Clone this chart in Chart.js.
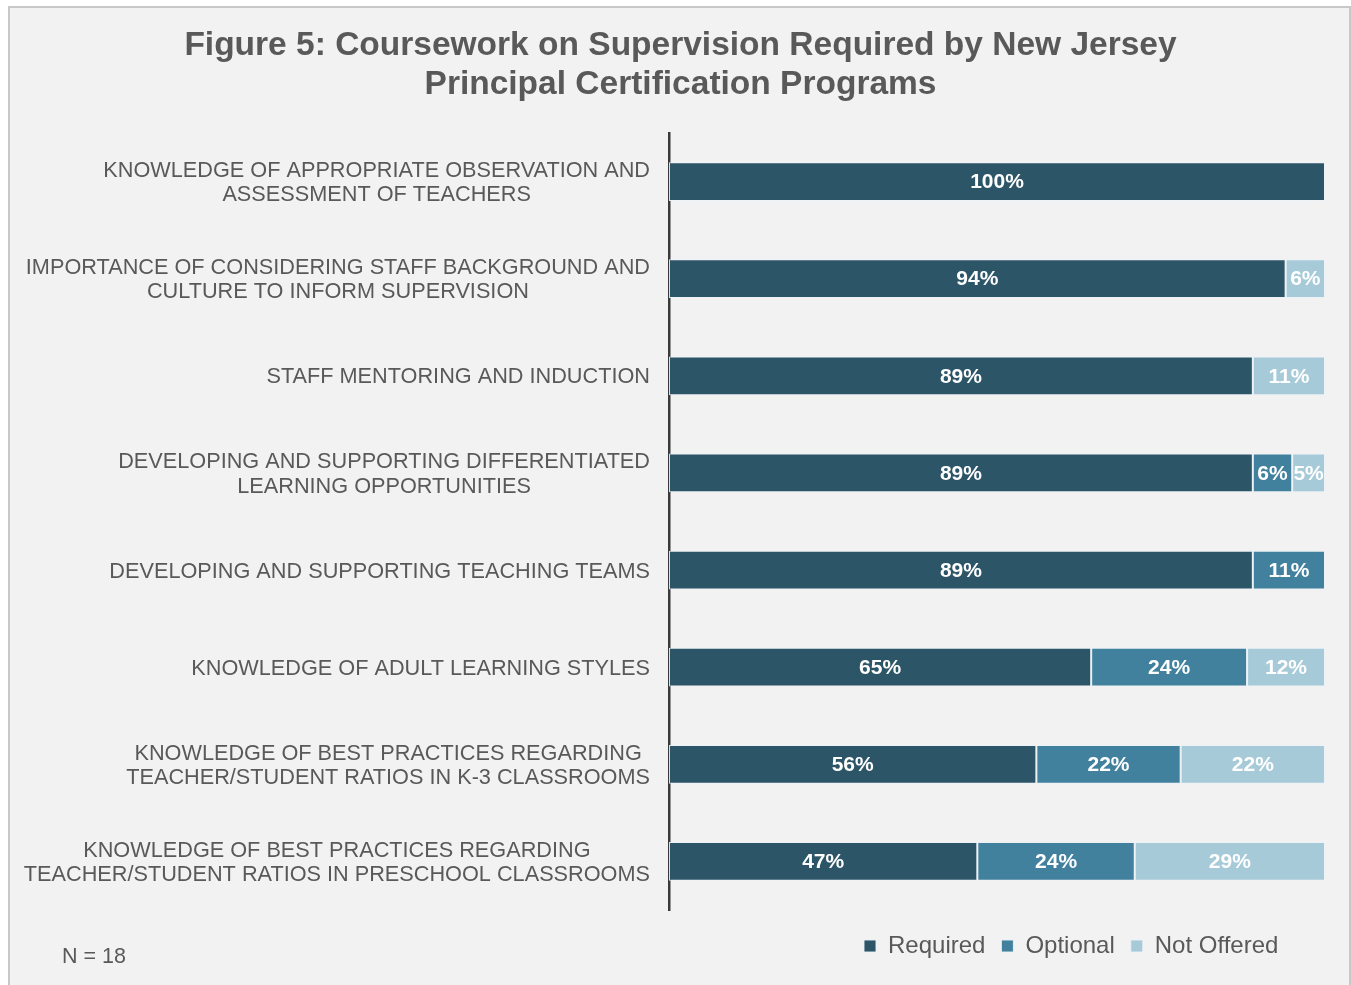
<!DOCTYPE html>
<html>
<head>
<meta charset="utf-8">
<script src="https://cdn.jsdelivr.net/npm/chart.js@4/dist/chart.umd.min.js"></script>
<style>
  html, body { margin: 0; padding: 0; background: #ffffff; width: 1351px; height: 985px; overflow: hidden; }
  #frame { position: absolute; left: 8px; top: 6px; width: 1339px; height: 990px; border: 2px solid #c8c8c8; background: #f2f2f2; }
  #wrap { position: absolute; left: 0; top: 0; width: 1351px; height: 985px; }
</style>
</head>
<body>
<div id="frame"></div>
<div id="wrap"><canvas id="c" width="1351" height="985"></canvas></div>
<script>
const titleLines = ['Figure 5: Coursework on Supervision Required by New Jersey', 'Principal Certification Programs'];
const categories = [
  ['KNOWLEDGE OF APPROPRIATE OBSERVATION AND', 'ASSESSMENT OF TEACHERS'],
  ['IMPORTANCE OF CONSIDERING STAFF BACKGROUND AND', 'CULTURE TO INFORM SUPERVISION'],
  ['STAFF MENTORING AND INDUCTION'],
  ['DEVELOPING AND SUPPORTING DIFFERENTIATED', 'LEARNING OPPORTUNITIES'],
  ['DEVELOPING AND SUPPORTING TEACHING TEAMS'],
  ['KNOWLEDGE OF ADULT LEARNING STYLES'],
  ['KNOWLEDGE OF BEST PRACTICES REGARDING', 'TEACHER/STUDENT RATIOS IN K-3 CLASSROOMS'],
  ['KNOWLEDGE OF BEST PRACTICES REGARDING', 'TEACHER/STUDENT RATIOS IN PRESCHOOL CLASSROOMS']
];
const seriesNames = ['Required', 'Optional', 'Not Offered'];
const required   = [100, 94, 89, 89, 89, 65, 56, 47];
const optional   = [0, 0, 0, 6, 11, 24, 22, 24];
const notOffered = [0, 6, 11, 5, 0, 12, 22, 29];
const seriesColors = ['#2c5568', '#41819e', '#a7cad9'];
const noteText = 'N = 18';

const raw = [required, optional, notOffered];
// each row shown as a share of its own total (rows are rounded percentages)
const rowTotals = categories.map((_, i) => raw.reduce((s, arr) => s + arr[i], 0));
const datasets = raw.map((arr, k) => ({
  label: seriesNames[k],
  data: arr.map((v, i) => v / rowTotals[i] * 100),
  rawValues: arr,
  backgroundColor: seriesColors[k],
  borderColor: 'rgba(235,242,246,0.9)',
  borderWidth: 1,
  borderSkipped: false,
  categoryPercentage: 1,
  barPercentage: 0.4
}));

const FONT = "'Liberation Sans', Arial, sans-serif";
const GRAY = '#595959';

const customDraw = {
  id: 'customDraw',
  afterLayout(chart) {
    const t = chart.titleBlock;
    if (t) { t.left = 10; t.right = 1351; }
    const lg = chart.legend;
    if (lg && lg.lineWidths) {
      const w = lg.right - lg.left;
      lg.right = 864 + lg.lineWidths[0];
      lg.left = lg.right - w;
      const h = lg.bottom - lg.top;
      lg.top = 918; lg.bottom = lg.top + h;
    }
  },
  afterDatasetsDraw(chart) {
    const ctx = chart.ctx;
    ctx.save();
    ctx.font = "bold 21px " + FONT;
    ctx.fillStyle = '#ffffff';
    ctx.textAlign = 'center';
    ctx.textBaseline = 'middle';
    chart.data.datasets.forEach((ds, di) => {
      const meta = chart.getDatasetMeta(di);
      meta.data.forEach((el, i) => {
        const v = ds.rawValues[i];
        if (!v) return;
        ctx.fillText(v + '%', (el.x + el.base) / 2, el.y + 1);
      });
    });
    ctx.restore();
  },
  afterDraw(chart) {
    const ctx = chart.ctx;
    const ys = chart.scales.y;
    ctx.save();
    ctx.font = "21.7px " + FONT;
    ctx.fillStyle = GRAY;
    ctx.textAlign = 'center';
    ctx.textBaseline = 'middle';
    const lineH = 24.5;
    const anchor = ys.right - 19;
    categories.forEach((lines, i) => {
      const y = ys.getPixelForTick(i);
      const maxW = Math.max(...lines.map(l => ctx.measureText(l).width));
      const cx = anchor - maxW / 2;
      lines.forEach((l, j) => {
        ctx.fillText(l, cx, y + (j - (lines.length - 1) / 2) * lineH + 1.5);
      });
    });
    ctx.font = "21.5px " + FONT;
    ctx.textAlign = 'left';
    ctx.fillText(noteText, 62, 957);
    ctx.restore();
  }
};

new Chart(document.getElementById('c'), {
  type: 'bar',
  data: { labels: categories, datasets },
  options: {
    indexAxis: 'y',
    responsive: false,
    animation: false,
    layout: { padding: { left: 0, right: 26, top: 0, bottom: 25 } },
    scales: {
      x: { stacked: true, min: 0, max: 100, display: false },
      y: {
        stacked: true,
        grid: { display: false },
        border: { display: true, color: '#3a3a3a', width: 2.5 },
        ticks: { display: false },
        afterFit(scale) { scale.width = 669; }
      }
    },
    plugins: {
      title: {
        display: true,
        text: titleLines,
        color: GRAY,
        font: { family: FONT, size: 33.5, weight: 'bold', lineHeight: 1.164 },
        padding: { top: 26, bottom: 29 }
      },
      legend: {
        display: true,
        position: 'bottom',
        align: 'end',
        labels: {
          color: GRAY,
          font: { family: FONT, size: 24 },
          boxWidth: 12,
          boxHeight: 12,
          padding: 16
        }
      },
      tooltip: { enabled: false }
    }
  },
  plugins: [customDraw]
});
</script>
</body>
</html>
